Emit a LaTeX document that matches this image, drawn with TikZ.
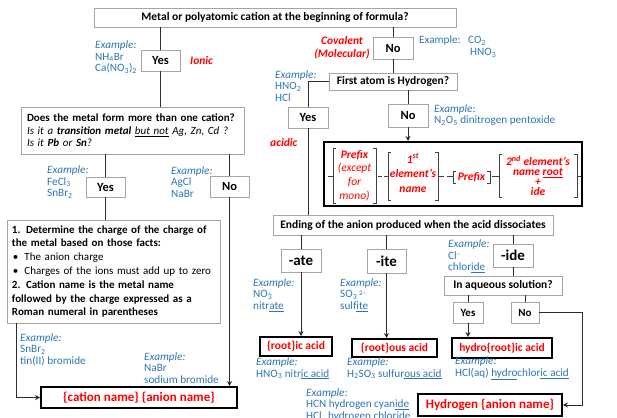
\documentclass[tikz,border=0pt]{standalone}
\usepackage{fontspec}
\setmainfont{Carlito}
\usetikzlibrary{arrows.meta,calc}
\definecolor{exblue}{RGB}{46,117,182}
\definecolor{boxgray}{RGB}{165,165,165}
\definecolor{linegray}{RGB}{45,45,45}
\newcommand\bracketpair[4]{%
 \draw[brk] (#1+3,#3) -- (#1,#3) -- (#1,#4) -- (#1+3,#4);
 \draw[brk] (#2-3,#3) -- (#2,#3) -- (#2,#4) -- (#2-3,#4);}
\newcommand\smallsup[1]{\raisebox{2.8pt}{\fontsize{7}{7}\selectfont #1}}
\begin{document}
\begin{tikzpicture}[x=1pt,y=-1pt,
 box/.style={draw=boxgray, line width=0.9pt, fill=white, inner sep=0pt, font=\fontsize{11.5}{13}\selectfont\bfseries},
 yn/.style={box, font=\fontsize{12.5}{14}\selectfont\bfseries},
 ynsmall/.style={box, font=\fontsize{11}{13}\selectfont\bfseries},
 suf/.style={box, font=\fontsize{15}{17}\selectfont\bfseries},
 res/.style={draw=black, line width=1.8pt, fill=white, inner sep=0pt, text=red, font=\fontsize{11.5}{13}\selectfont\bfseries},
 resbig/.style={res, font=\fontsize{13}{15}\selectfont\bfseries},
 ex/.style={anchor=west, inner sep=0pt, align=left, text=exblue, font=\fontsize{11.2}{11.5}\selectfont},
 redlbl/.style={inner sep=0pt, text=red, font=\fontsize{11.5}{13}\selectfont\bfseries\itshape},
 bt/.style={inner sep=0pt, align=center, text=red, font=\fontsize{11.5}{13.7}\selectfont\itshape},
 conn/.style={draw=linegray, line width=0.8pt},
 arr/.style={conn, -{Stealth[length=5pt,width=5pt]}},
 brk/.style={draw=black!75, line width=0.8pt},
]
\useasboundingbox (0,0) rectangle (617,417);

% --- boxes ---
\node[box, minimum width=362pt, minimum height=19pt] (title) at (275,17.5) {Metal or polyatomic cation at the beginning of formula?};
\node[yn, minimum width=39pt, minimum height=21pt] (yes1) at (160.5,60.5) {Yes};
\node[yn, minimum width=40pt, minimum height=22pt] (no1) at (393,48) {No};
\node[box, minimum width=128pt, minimum height=17pt] (first) at (393,81.5) {First atom is Hydrogen?};
\node[yn, minimum width=40pt, minimum height=21pt] (yes2) at (308,117.5) {Yes};
\node[yn, minimum width=40pt, minimum height=23pt] (no2) at (408,115.5) {No};
\node[draw=black, line width=2pt, minimum width=258pt, minimum height=64pt, inner sep=0pt] (big) at (453,174) {};
\node[box, minimum width=280pt, minimum height=20pt] (ending) at (413,225) {Ending of the anion produced when the acid dissociates};
\node[suf, minimum width=40pt, minimum height=23pt] (ate) at (301,260.5) {-ate};
\node[suf, minimum width=39pt, minimum height=24pt] (ite) at (386.5,261) {-ite};
\node[suf, minimum width=40pt, minimum height=23pt] (ide) at (513,255.5) {-ide};
\node[box, minimum width=118pt, minimum height=19pt] (aq) at (503,285.5) {In aqueous solution?};
\node[ynsmall, minimum width=30pt, minimum height=21pt] (yes3) at (468,312.5) {Yes};
\node[ynsmall, minimum width=28pt, minimum height=21pt] (no3) at (525,312.5) {No};
\node[res, minimum width=72pt, minimum height=19pt] (ic) at (296,346.5) {\{root\}ic acid};
\node[res, minimum width=85pt, minimum height=18pt] (ous) at (394.5,348) {\{root\}ous acid};
\node[res, minimum width=100pt, minimum height=20pt] (hydro) at (502,348) {hydro\{root\}ic acid};
\node[resbig, minimum width=144pt, minimum height=22pt] (hyd) at (490,405) {Hydrogen \{anion name\}};

\node[box, minimum width=223pt, minimum height=47pt, text width=211pt, align=left, font=\fontsize{11}{12.5}\selectfont] (q) at (132.5,130.5)
 {\mbox{\textbf{Does the metal form more than one cation?}}\\
  \mbox{\textit{Is it a \textbf{transition metal} \underline{but not} Ag, Zn, Cd ?}}\\
  \mbox{\textit{Is it \textbf{Pb} or \textbf{Sn}?}}};
\node[yn, minimum width=39pt, minimum height=20pt] (yes4) at (105.5,187) {Yes};
\node[yn, minimum width=39pt, minimum height=21pt] (no4) at (229.5,186.5) {No};
\node[box, minimum width=213pt, minimum height=103pt, text width=203pt, align=left, font=\fontsize{11}{13.8}\selectfont] (step) at (113.5,271.5)
 {\mbox{\textbf{1. Determine the charge of the charge of}}\\
  \mbox{\textbf{the metal based on those facts:}}\\
  \mbox{\hspace*{1pt}\textbullet\hspace{6pt}The anion charge}\\
  \mbox{\hspace*{1pt}\textbullet\hspace{6pt}Charges of the ions must add up to zero}\\
  \mbox{\textbf{2. Cation name is the metal name}}\\
  \mbox{\textbf{followed by the charge expressed as a}}\\
  \mbox{\textbf{Roman numeral in parentheses}}};
\node[resbig, minimum width=196pt, minimum height=21pt] (cat) at (139,397.5) {\{cation name\} \{anion name\}};

% --- connectors ---
\draw[conn] (title.south -| yes1.north) -- (yes1.north);
\draw[conn] (title.south -| no1.north) -- (no1.north);
\draw[conn] (yes1.south) -- (yes1.south |- q.north);
\draw[conn] (no1.south) -- (first.north);
\draw[conn] (first.west) -| (yes2.north);
\draw[conn] (first.south -| no2.north) -- (no2.north);
\draw[arr] (no2.south) -- (no2.south |- big.north);
\draw[conn] (yes2.south) -- (yes2.south |- ending.north);
\draw[conn] (ending.south -| ate.north) -- (ate.north);
\draw[conn] (ending.south -| ite.north) -- (ite.north);
\draw[conn] (ending.south -| ide.north) -- (ide.north);
\draw[arr] (ate.south) -- (ate.south |- ic.north);
\draw[arr] (ite.south) -- (ite.south |- ous.north);
\draw[conn] (ide.south) -- (ide.south |- aq.north);
\draw[conn] (aq.south -| yes3.north) -- (yes3.north);
\draw[conn] (aq.south -| no3.north) -- (no3.north);
\draw[arr] (yes3.south) -- (yes3.south |- hydro.north);
\draw[arr] (no3.east) -- ++(43,0) |- (hyd.east);
\draw[conn] (q.south -| yes4.north) -- (yes4.north);
\draw[conn] (q.south -| no4.north) -- (no4.north);
\draw[conn] (yes4.south) -- (yes4.south |- step.north);
\draw[arr] (no4.south) -- (no4.south |- cat.north);
\draw[arr] ($(step.south west)+(10,0)$) |- (cat.west);

% --- naming formula inside big box ---
\bracketpair{333}{376}{148}{203}
\bracketpair{388}{438}{152}{200}
\bracketpair{453}{490}{171}{183}
\bracketpair{499}{577}{154}{197}
\draw[brk] (328,176.5) -- (333,176.5);
\draw[brk] (377.5,176.5) -- (381.5,176.5);
\draw[brk] (383.5,176.5) -- (387.5,176.5);
\draw[brk] (439,176.5) -- (443.5,176.5);
\draw[brk] (446.5,176.5) -- (452.5,176.5);
\draw[brk] (491.5,176.5) -- (498.5,176.5);
\draw[brk] (578,176.5) -- (581,176.5);
\node[bt] (g1) at (354.5,175.5) {\textbf{Prefix}\\(except\\for\\mono)};
\node[bt, font=\fontsize{11.5}{14.5}\selectfont\itshape\bfseries] (g2) at (413,173) {1\textsuperscript{st}\\element's\\name};
\node[bt, font=\fontsize{11.5}{12}\selectfont\itshape\bfseries] (g3) at (471.5,177) {Prefix};
\node[bt, font=\fontsize{11.5}{10}\selectfont\itshape\bfseries] (g4) at (538,175.5) {2\textsuperscript{nd} element's\\name \underline{root}\\+\\ide};

% --- red labels ---
\node[redlbl, anchor=west] (ionic) at (190,61) {Ionic};
\node[redlbl, align=center] (cov) at (342,47.5) {Covalent\\(Molecular)};
\node[redlbl, anchor=west] (acidic) at (270,143) {acidic};

% --- examples ---
\node[ex] (ex1) at (95,57) {\textit{Example:}\\NH\textsubscript{4}Br\\Ca(NO\textsubscript{3})\textsubscript{2}};
\node[ex] (ex2) at (275,86) {\textit{Example:}\\HNO\textsubscript{2}\\HCl};
\node[ex] (ex3) at (434,115) {\textit{Example}:\\N\textsubscript{2}O\textsubscript{5} dinitrogen pentoxide};
\node[ex] (ex4a) at (419,41) {Example:};
\node[ex] (ex4b) at (468,41) {CO\textsubscript{2}};
\node[ex] (ex4c) at (470,53) {HNO\textsubscript{3}};
\node[ex] (ex5) at (47,182) {\textit{Example:}\\FeCl\textsubscript{3}\\SnBr\textsubscript{2}};
\node[ex] (ex6) at (171,182) {\textit{Example:}\\AgCl\\NaBr};
\node[ex] (ex7) at (20,349.5) {\textit{Example:}\\SnBr\textsubscript{2}\\tin(II) bromide};
\node[ex] (ex8) at (144,368) {\textit{Example:}\\NaBr\\sodium bromide};
\node[ex] (ex9) at (253,295) {\textit{Example:}\\NO\textsubscript{3}\llap{\smallsup{–}\hspace{0.8pt}}\\nitr\underline{ate}};
\node[ex] (ex10) at (340,295) {\textit{Example:}\\SO\textsubscript{3}\,\smallsup{2–}\\sulf\underline{ite}};
\node[ex] (ex11) at (448,256.5) {\textit{Example:}\\Cl\smallsup{–}\\chlor\underline{ide}};
\node[ex] (ex12) at (256,368.5) {\textit{Example:}\\HNO\textsubscript{3} nitr\underline{ic acid}};
\node[ex] (ex13) at (347,368.5) {\textit{Example:}\\H\textsubscript{2}SO\textsubscript{3} sulfur\underline{ous acid}};
\node[ex] (ex14) at (455,368.5) {\textit{Example:}\\HCl(aq) \underline{hydro}chlor\underline{ic acid}};
\node[ex] (ex15) at (306,405) {\textit{Example}:\\HCN hydrogen cyan\underline{ide}\\HCl\hspace{4pt} hydrogen chlor\underline{ide}};
\end{tikzpicture}
\end{document}
